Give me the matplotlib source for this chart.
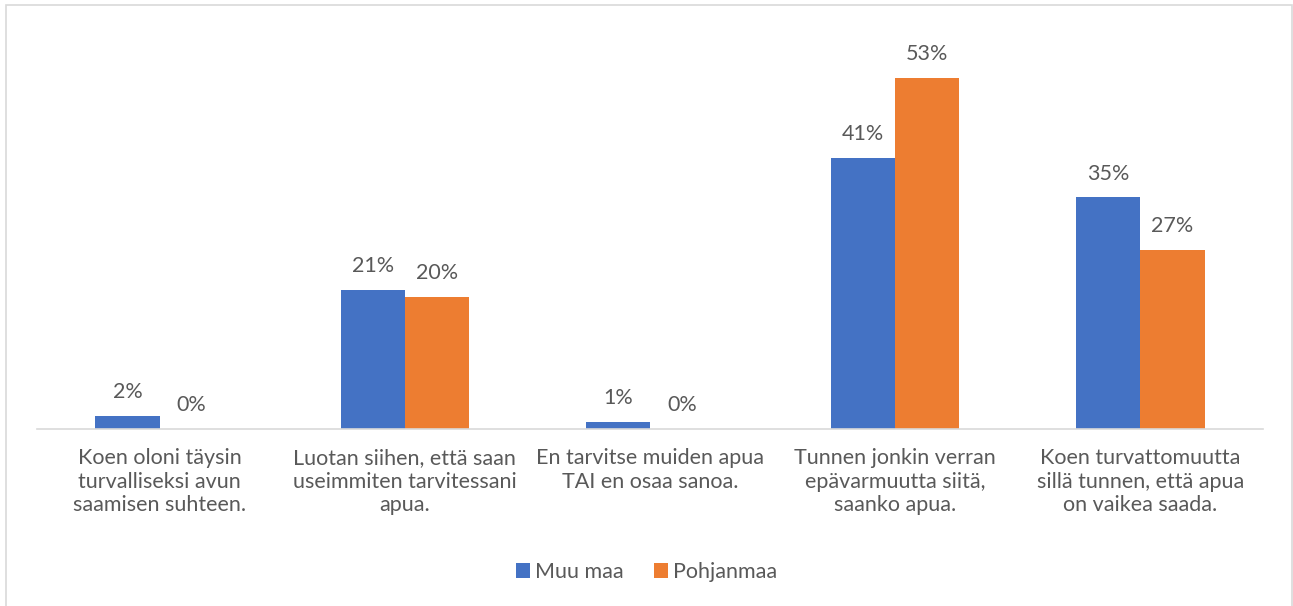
import numpy as np
import matplotlib.pyplot as plt
from matplotlib.patches import Rectangle

categories = ["Koen oloni täysin\nturvalliseksi avun\nsaamisen suhteen.",
              "Luotan siihen, että saan\nuseimmiten tarvitessani\napua.",
              "En tarvitse muiden apua\nTAI en osaa sanoa.",
              "Tunnen jonkin verran\nepävarmuutta siitä,\nsaanko apua.",
              "Koen turvattomuutta\nsillä tunnen, että apua\non vaikea saada."]
muu_maa = [2, 21, 1, 41, 35]
pohjanmaa = [0, 20, 0, 53, 27]
series_names = ["Muu maa", "Pohjanmaa"]

blue = "#4472C4"
orange = "#ED7D31"
txt = "#595959"

plt.rcParams['font.family'] = ['Lato', 'DejaVu Sans']

fig = plt.figure(figsize=(12.93, 6.06), dpi=100)
fig.patches.append(Rectangle((6/1293, -0.01), 1286/1293, 1 - 5/606 + 0.01,
                             transform=fig.transFigure, fill=False,
                             edgecolor="#D9D9D9", linewidth=1.2))
ax = fig.add_axes([37/1293, 177/606, 1226/1293, 397/606])

x = np.arange(len(categories))
w = 0.262
b1 = ax.bar(x - w/2, muu_maa, w, color=blue, label=series_names[0])
b2 = ax.bar(x + w/2, pohjanmaa, w, color=orange, label=series_names[1])

for bars in (b1, b2):
    for rect in bars:
        h = rect.get_height()
        ax.annotate(f"{h:.0f}%", (rect.get_x() + rect.get_width()/2, h),
                    xytext=(0, 10), textcoords="offset points",
                    ha="center", va="bottom", fontsize=15.5, color=txt)

ax.set_xlim(-0.5, len(categories) - 0.5)
ax.set_ylim(0, 60)
ax.set_yticks([])
ax.set_xticks(x)
ax.set_xticklabels(categories, fontsize=15.5, color=txt, linespacing=1.22)
ax.tick_params(axis="x", length=0, pad=14)
for s in ["top", "right", "left"]:
    ax.spines[s].set_visible(False)
ax.spines["bottom"].set_color("#D9D9D9")
ax.spines["bottom"].set_linewidth(1.2)

fig.legend(loc="center", bbox_to_anchor=(0.5, 1 - 572/606), ncol=2, frameon=False,
           fontsize=15.5, labelcolor=txt, handlelength=0.65, handleheight=0.65,
           handletextpad=0.25, columnspacing=1.4)

fig.savefig("out.png", dpi=100, facecolor="white")
